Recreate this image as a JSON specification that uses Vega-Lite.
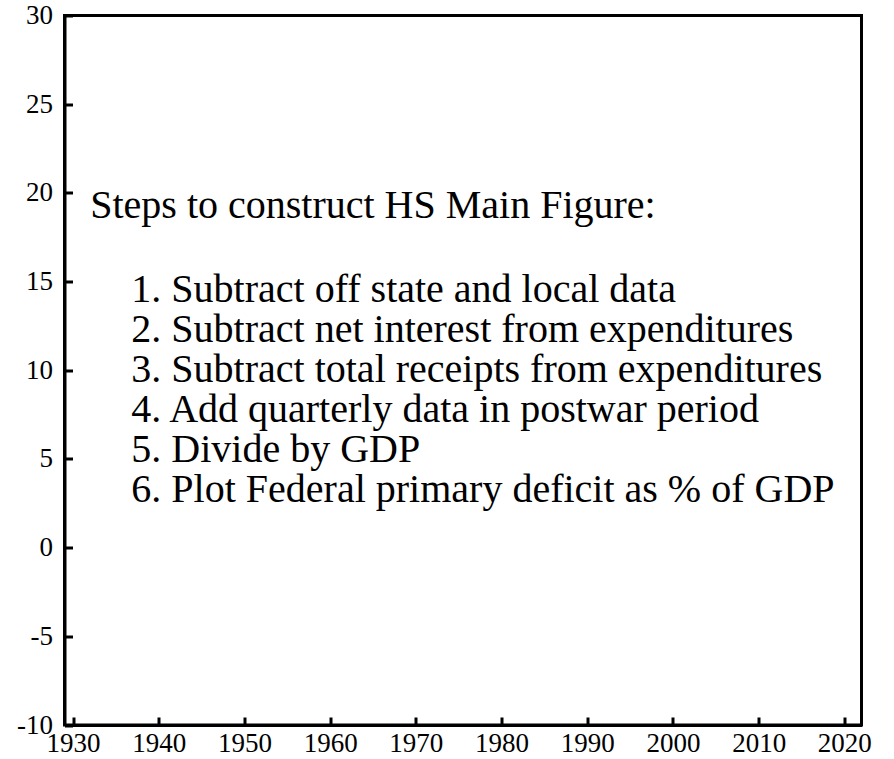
{
  "$schema": "https://vega.github.io/schema/vega-lite/v6.json",
  "width": 797,
  "height": 709.5,
  "autosize": {"type": "none"},
  "padding": {"left": 64.5, "top": 15.5, "right": 32.5, "bottom": 34},
  "background": "white",
  "config": {
    "view": {"stroke": "black", "strokeWidth": 3},
    "font": "Liberation Serif"
  },
  "data": {
    "values": [
      {"x": 1932, "y": 18.6, "t": "Steps to construct HS Main Figure:"},
      {"x": 1936.8, "y": 13.85, "t": "1. Subtract off state and local data"},
      {"x": 1936.8, "y": 11.6, "t": "2. Subtract net interest from expenditures"},
      {"x": 1936.8, "y": 9.35, "t": "3. Subtract total receipts from expenditures"},
      {"x": 1936.8, "y": 7.1, "t": "4. Add quarterly data in postwar period"},
      {"x": 1936.8, "y": 4.85, "t": "5. Divide by GDP"},
      {"x": 1936.8, "y": 2.6, "t": "6. Plot Federal primary deficit as % of GDP"}
    ]
  },
  "mark": {
    "type": "text",
    "align": "left",
    "baseline": "alphabetic",
    "font": "Liberation Serif",
    "fontSize": 40,
    "color": "black"
  },
  "encoding": {
    "x": {
      "field": "x",
      "type": "quantitative",
      "scale": {"domain": [1929, 2022], "nice": false, "zero": false},
      "axis": {
        "values": [1930, 1940, 1950, 1960, 1970, 1980, 1990, 2000, 2010, 2020],
        "labelExpr": "datum.value + ''",
        "grid": false,
        "title": null,
        "tickSize": -8,
        "tickWidth": 3,
        "tickColor": "black",
        "domainColor": "black",
        "domainWidth": 3,
        "labelFont": "Liberation Serif",
        "labelFontSize": 27,
        "labelColor": "black",
        "labelPadding": 13,
        "labelFlush": false,
        "labelOverlap": false
      }
    },
    "y": {
      "field": "y",
      "type": "quantitative",
      "scale": {"domain": [-10, 30], "nice": false, "zero": false},
      "axis": {
        "values": [-10, -5, 0, 5, 10, 15, 20, 25, 30],
        "labelExpr": "datum.value + ''",
        "grid": false,
        "title": null,
        "tickSize": -8,
        "tickWidth": 3,
        "tickColor": "black",
        "domainColor": "black",
        "domainWidth": 3,
        "labelFont": "Liberation Serif",
        "labelFontSize": 27,
        "labelColor": "black",
        "labelPadding": 20,
        "labelFlush": false,
        "labelOverlap": false
      }
    },
    "text": {"field": "t"}
  }
}
